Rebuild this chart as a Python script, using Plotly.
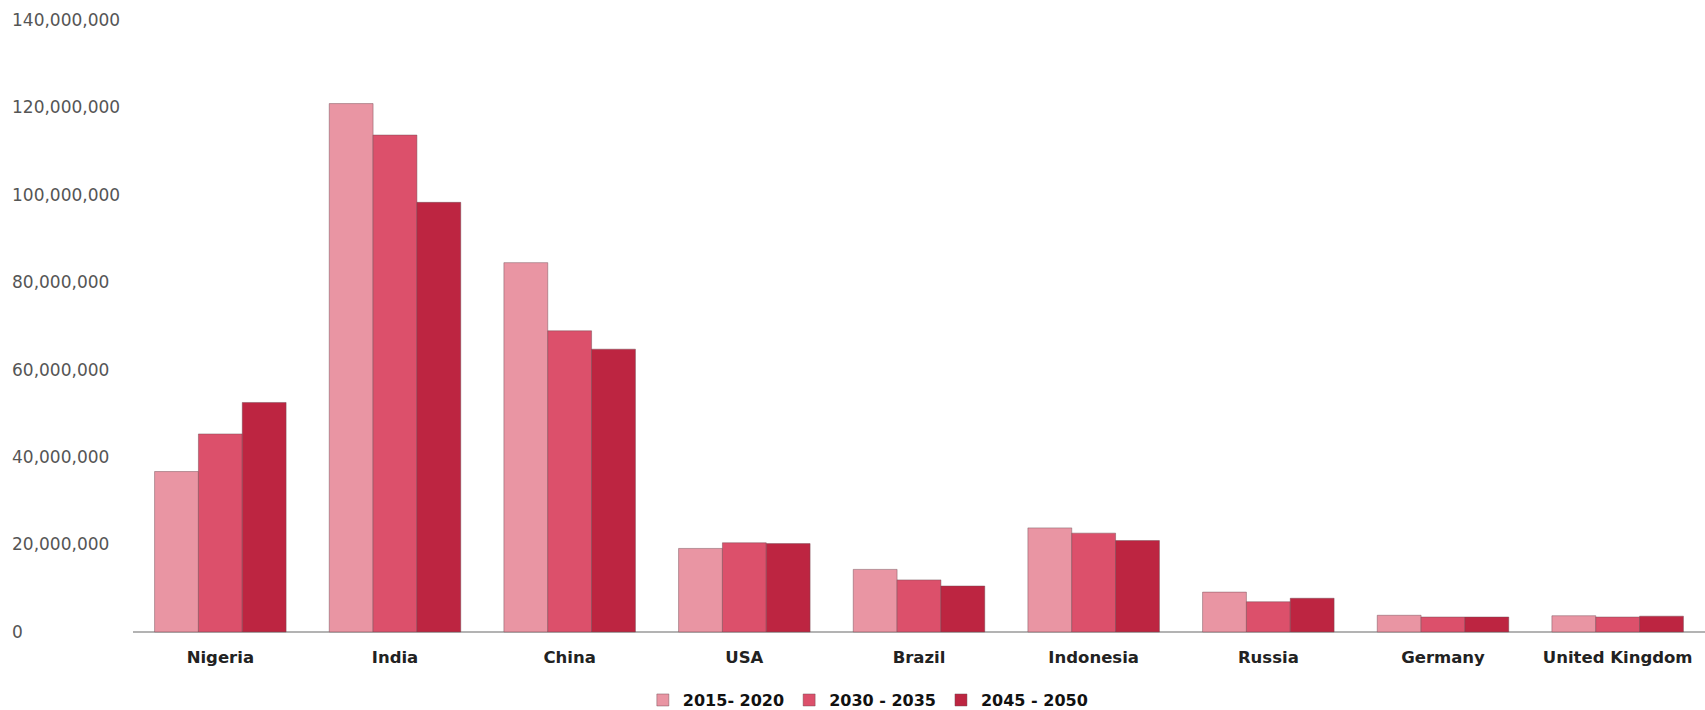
import plotly.graph_objects as go

countries = ["Nigeria", "India", "China", "USA", "Brazil", "Indonesia", "Russia", "Germany", "United Kingdom"]
s2015 = [36.7e6, 120.9e6, 84.5e6, 19.1e6, 14.3e6, 23.8e6, 9.1e6, 3.8e6, 3.7e6]
s2030 = [45.3e6, 113.7e6, 68.9e6, 20.4e6, 11.9e6, 22.6e6, 6.9e6, 3.4e6, 3.4e6]
s2045 = [52.5e6, 98.3e6, 64.7e6, 20.2e6, 10.5e6, 20.9e6, 7.7e6, 3.4e6, 3.6e6]
series_names = ["2015- 2020", "2030 - 2035", "2045 - 2050"]
colors = ["#E995A3", "#DC506B", "#BD2541"]
tick_vals = [0, 20e6, 40e6, 60e6, 80e6, 100e6, 120e6, 140e6]
tick_text = ["0", "20,000,000", "40,000,000", "60,000,000", "80,000,000", "100,000,000", "120,000,000", "140,000,000"]

W, H = 1705, 710
fig = go.Figure()
for name, vals, c in zip(series_names, [s2015, s2030, s2045], colors):
    fig.add_trace(go.Bar(
        x=countries, y=vals, name=name,
        marker=dict(color=c, line=dict(color="rgba(110,70,80,0.45)", width=1)),
    ))

fig.update_layout(
    width=W, height=H,
    margin=dict(l=0, r=0, t=7, b=65),
    paper_bgcolor="white", plot_bgcolor="white",
    barmode="group", bargap=0.247, bargroupgap=0,
    font=dict(family="DejaVu Sans", size=16, color="#333"),
    showlegend=True,
    legend=dict(
        orientation="h", x=0.509, xanchor="center",
        yref="container", y=0.014, yanchor="middle",
        font=dict(family="DejaVu Sans", size=16, color="#111", weight="bold"),
        itemwidth=30, traceorder="normal",
    ),
    xaxis=dict(
        domain=[133 / W, 1], showline=False,
        ticks="", showgrid=False, zeroline=False,
        tickfont=dict(family="DejaVu Sans", size=16.5, color="#222", weight="bold"),
        ticklabelstandoff=0, automargin=False,
    ),
    yaxis=dict(
        range=[-3e6, 143e6], tickvals=tick_vals, ticktext=tick_text,
        anchor="free", position=8 / W, ticklabelposition="inside",
        showgrid=False, showline=False, ticks="",
        zeroline=True, zerolinecolor="#b3b3b3", zerolinewidth=2,
        tickfont=dict(family="DejaVu Sans", size=17, color="#555"),
        automargin=False,
    ),
)

fig.write_html("out.html")
